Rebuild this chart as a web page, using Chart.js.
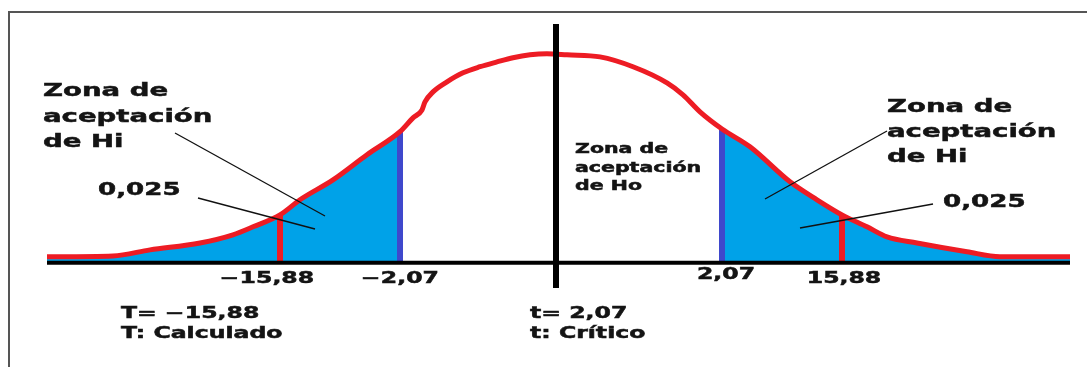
<!DOCTYPE html>
<html>
<head>
<meta charset="utf-8">
<script src="https://cdn.jsdelivr.net/npm/chart.js@4"></script>
<style>
  body { margin: 0; background: #fff; }
  #wrap { width: 1087px; height: 367px; }
</style>
</head>
<body>
<div id="wrap"><canvas id="tChart"></canvas></div>
<script>
// schematic position along the t axis (not to scale) and curve height
const curveX = [-50.9, -44.3, -40.6, -35.6, -32.3, -30.3, -27.6, -25.6, -22.3, -18.9, -15.6, -14.3, -13.4, -13.1, -12.3, -10.9, -9.3, -7.6, -5.9, -4.3, -2.6, -0.9, 1.1, 4.4, 7.7, 11.1, 12.7, 14.4, 16.6, 19.4, 23.4, 26.1, 28.6, 31.1, 33.1, 36.1, 41.1, 44.4, 51.4];
const curveY = [2.9, 3.3, 6.2, 9.5, 13.4, 17.2, 22.9, 30.1, 39.6, 51.6, 62.6, 69.2, 73.0, 76.8, 81.6, 86.4, 90.7, 93.6, 95.9, 97.9, 99.3, 99.8, 99.3, 98.3, 93.6, 85.9, 80.2, 72.1, 63.9, 55.4, 38.7, 30.1, 22.9, 17.2, 12.4, 9.5, 5.3, 2.9, 2.9];

// marks on the axis: calculated T (red) and critical t (blue)
const markX = [-27.6, -15.6, 16.6, 28.6];
const markLabels = ['−15,88', '−2,07', '2,07', '15,88'];
const markKind = ['calc', 'crit', 'crit', 'calc'];

const yMin = -12;
const yMax = 114;

const RED = '#ED1C24';
const BLUE = '#3F48CC';
const FILL = '#00A2E8';

const pts = curveX.map((x, i) => ({ x: x, y: curveY[i] }));
const leftTail = pts.filter(p => p.x <= markX[1]);
const rightTail = pts.filter(p => p.x >= markX[2]);
const heightAt = x => curveY[curveX.indexOf(x)];

const markSets = markX.map((x, i) => ({
    data: [{ x: x, y: 0 }, { x: x, y: heightAt(x) }],
    borderColor: markKind[i] === 'calc' ? RED : BLUE,
    borderWidth: 6,
    borderCapStyle: 'butt',
    pointRadius: 0,
    fill: false,
    order: 4
}));

// text: label lines, left x, baseline y, size, horizontal stretch
const notes = [
    { lines: ['Zona de', 'aceptación', 'de Hi'], x: 43, y: 96, size: 18, sx: 1.53, lh: 25.5 },
    { lines: ['0,025'], x: 98, y: 195, size: 18, sx: 1.45, lh: 0 },
    { lines: ['Zona de', 'aceptación', 'de Hi'], x: 887, y: 112, size: 18, sx: 1.53, lh: 25 },
    { lines: ['0,025'], x: 943, y: 207, size: 18, sx: 1.45, lh: 0 },
    { lines: ['Zona de', 'aceptación', 'de Ho'], x: 575, y: 153, size: 13.5, sx: 1.52, lh: 18.5 },
    { lines: ['T= −15,88', 'T: Calculado'], x: 121, y: 318, size: 15.5, sx: 1.52, lh: 20 },
    { lines: ['t= 2,07', 't: Crítico'], x: 530, y: 318, size: 15.5, sx: 1.52, lh: 20 }
];
const leaders = [
    [175, 133, 325, 216],
    [198, 198, 315, 229],
    [765, 199, 887, 131],
    [800, 228, 933, 204]
];
const labelShift = [-13, 0, 4, 2];
const labelBase = [283, 283, 279, 283];

function stretchedText(ctx, str, x, y, size, sx, align) {
    ctx.save();
    ctx.translate(x, y);
    ctx.scale(sx, 1);
    ctx.font = 'bold ' + size + 'px "DejaVu Sans"';
    ctx.textAlign = align;
    ctx.textBaseline = 'alphabetic';
    ctx.fillStyle = '#141414';
    ctx.strokeStyle = '#141414';
    ctx.lineWidth = 0.5;
    ctx.fillText(str, 0, 0);
    ctx.strokeText(str, 0, 0);
    ctx.restore();
}

const sketch = {
    id: 'sketch',
    beforeDraw(chart) {
        const ctx = chart.ctx;
        ctx.save();
        ctx.fillStyle = '#fff';
        ctx.fillRect(0, 0, chart.width, chart.height);
        ctx.strokeStyle = '#555';
        ctx.lineWidth = 2;
        ctx.beginPath();
        ctx.moveTo(9, chart.height);
        ctx.lineTo(9, 12);
        ctx.lineTo(chart.width, 12);
        ctx.stroke();
        ctx.restore();
    },
    afterDraw(chart) {
        const ctx = chart.ctx;
        const xs = chart.scales.x;
        ctx.save();
        ctx.strokeStyle = '#111';
        ctx.lineWidth = 1.3;
        leaders.forEach(l => {
            ctx.beginPath();
            ctx.moveTo(l[0], l[1]);
            ctx.lineTo(l[2], l[3]);
            ctx.stroke();
        });
        ctx.restore();
        notes.forEach(n => {
            n.lines.forEach((s, i) => stretchedText(ctx, s, n.x, n.y + i * n.lh, n.size, n.sx, 'left'));
        });
        markX.forEach((x, i) => {
            stretchedText(ctx, markLabels[i], xs.getPixelForValue(x) + labelShift[i], labelBase[i], 15.5, 1.52, 'center');
        });
    }
};

new Chart(document.getElementById('tChart'), {
    type: 'line',
    data: {
        datasets: [
            {
                data: [{ x: 0, y: yMin }, { x: 0, y: yMax }],
                borderColor: '#000',
                borderWidth: 6,
                pointRadius: 0,
                fill: false,
                order: 1
            },
            {
                data: pts,
                borderColor: RED,
                borderWidth: 5,
                cubicInterpolationMode: 'monotone',
                pointRadius: 0,
                fill: false,
                order: 2
            },
            {
                data: [{ x: curveX[0], y: 0 }, { x: curveX[curveX.length - 1], y: 0 }],
                borderColor: '#000',
                borderWidth: 4,
                pointRadius: 0,
                fill: false,
                order: 3
            },
            ...markSets,
            {
                data: leftTail,
                borderWidth: 0,
                borderColor: FILL,
                backgroundColor: FILL,
                cubicInterpolationMode: 'monotone',
                pointRadius: 0,
                fill: 'origin',
                order: 5
            },
            {
                data: rightTail,
                borderWidth: 0,
                borderColor: FILL,
                backgroundColor: FILL,
                cubicInterpolationMode: 'monotone',
                pointRadius: 0,
                fill: 'origin',
                order: 5
            }
        ]
    },
    options: {
        responsive: true,
        maintainAspectRatio: false,
        animation: false,
        clip: false,
        layout: { padding: { left: 47, right: 17, top: 24, bottom: 79 } },
        plugins: {
            legend: { display: false },
            tooltip: { enabled: false }
        },
        scales: {
            x: { type: 'linear', min: curveX[0], max: curveX[curveX.length - 1], display: false },
            y: { min: yMin, max: yMax, display: false }
        }
    },
    plugins: [sketch]
});
</script>
</body>
</html>
